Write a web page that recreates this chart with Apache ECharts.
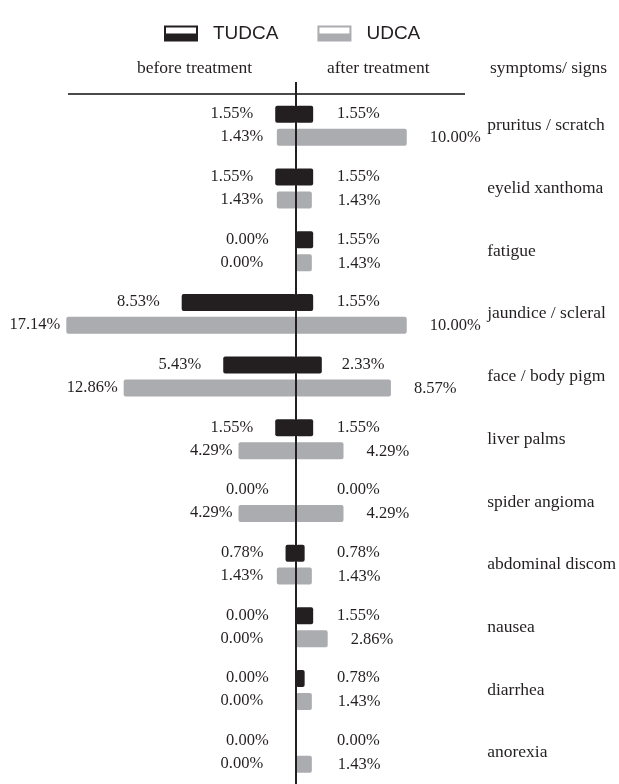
<!DOCTYPE html>
<html>
<head>
<meta charset="utf-8">
<script src="https://cdn.jsdelivr.net/npm/echarts@6/dist/echarts.min.js"></script>
<style>html,body{margin:0;padding:0;background:#fff;}#c{width:619px;height:784px;}</style>
</head>
<body>
<div id="c"></div>
<script>
const categories = ['pruritus / scratch','eyelid xanthoma','fatigue','jaundice / scleral','face / body pigm','liver palms','spider angioma','abdominal discom','nausea','diarrhea','anorexia'];
const tudcaBefore = [1.55,1.55,0,8.53,5.43,1.55,0,0.78,0,0,0];
const tudcaAfter  = [1.55,1.55,1.55,1.55,2.33,1.55,0,0.78,1.55,0.78,0];
const udcaBefore  = [1.43,1.43,0,17.14,12.86,4.29,4.29,1.43,0,0,0];
const udcaAfter   = [10.00,1.43,1.43,10.00,8.57,4.29,4.29,1.43,2.86,1.43,1.43];
const seriesNames = ['TUDCA','UDCA'];
const headers = ['before treatment','after treatment','symptoms/ signs'];

const DARK = '#231f20', GRAY = '#abacaf';
const SERIF = 'Liberation Serif';
const chart = echarts.init(document.getElementById('c'), null, {renderer:'canvas'});

function fmt(v){ return v.toFixed(2) + '%'; }
function labelSeries(name, vals, xi, minV, pos, dist, dy){
  return {
    type:'scatter', name:name, xAxisIndex:xi, yAxisIndex:xi,
    symbolSize:0, itemStyle:{color:DARK}, silent:true, z:5,
    data: vals.map((v,i)=>({value:[Math.max(v,minV), i], raw:v})),
    label:{show:true, position:pos, distance:dist, offset:[0,dy],
      fontFamily:SERIF, fontSize:16.5, color:DARK, opacity:1,
      formatter:(p)=>fmt(p.data.raw)}
  };
}
const barCommon = {type:'bar', barWidth:17, barGap:'35%', silent:true};
const iconPath = 'path://M0,0H34V16H0Z M2,2V8H32V2Z';
const hdrFont = '17.5px "Liberation Serif"';

chart.setOption({
  animation:false,
  backgroundColor:'#fff',
  legend:{
    left:159, top:19, itemWidth:34, itemHeight:16, itemGap:39,
    icon:iconPath,
    data:[{name:seriesNames[0], itemStyle:{color:DARK}},{name:seriesNames[1], itemStyle:{color:GRAY}}],
    textStyle:{fontFamily:'Liberation Sans', fontSize:19, color:DARK, padding:[0,0,0,10]}
  },
  grid:[
    {left:28, width:268, top:94.5, height:694},
    {left:296, width:180.8, top:94.5, height:694}
  ],
  xAxis:[
    {gridIndex:0, type:'value', min:0, max:20, inverse:true, show:false},
    {gridIndex:1, type:'value', min:0, max:16, show:false}
  ],
  yAxis:[
    {gridIndex:0, type:'category', data:categories, inverse:true, show:false},
    {gridIndex:1, type:'category', data:categories, inverse:true, position:'right',
      axisLine:{show:false}, axisTick:{show:false}, splitLine:{show:false},
      axisLabel:{margin:14, align:'left', fontFamily:SERIF, fontSize:17.5, color:DARK}}
  ],
  series:[
    Object.assign({}, barCommon, {name:seriesNames[0], xAxisIndex:0, yAxisIndex:0, data:tudcaBefore, itemStyle:{color:DARK, borderRadius:2}}),
    Object.assign({}, barCommon, {name:seriesNames[1], xAxisIndex:0, yAxisIndex:0, data:udcaBefore, itemStyle:{color:GRAY, borderRadius:2}}),
    Object.assign({}, barCommon, {name:seriesNames[0], xAxisIndex:1, yAxisIndex:1, data:tudcaAfter, itemStyle:{color:DARK, borderRadius:2}}),
    Object.assign({}, barCommon, {name:seriesNames[1], xAxisIndex:1, yAxisIndex:1, data:udcaAfter, itemStyle:{color:GRAY, borderRadius:2}}),
    labelSeries('lbl-tb', tudcaBefore, 0, 0.4, 'left', 22, -12),
    labelSeries('lbl-ub', udcaBefore, 0, 2.0, 'left', 6, 11),
    labelSeries('lbl-ta', tudcaAfter, 1, 1.9, 'right', 20, -12),
    labelSeries('lbl-ua', udcaAfter, 1, 1.7, 'right', 23, 12)
  ],
  graphic:[
    {type:'text', x:137, y:68, style:{text:headers[0], font:hdrFont, fill:DARK, textVerticalAlign:'middle'}},
    {type:'text', x:327, y:68, style:{text:headers[1], font:hdrFont, fill:DARK, textVerticalAlign:'middle'}},
    {type:'text', x:490, y:68, style:{text:headers[2], font:hdrFont, fill:DARK, textVerticalAlign:'middle'}},
    {type:'line', shape:{x1:68, y1:94, x2:465, y2:94}, style:{stroke:'#4a4a4a', lineWidth:2}, z:10},
    {type:'line', shape:{x1:296, y1:82, x2:296, y2:784}, style:{stroke:DARK, lineWidth:2}, z:10}
  ]
});
</script>
</body>
</html>
